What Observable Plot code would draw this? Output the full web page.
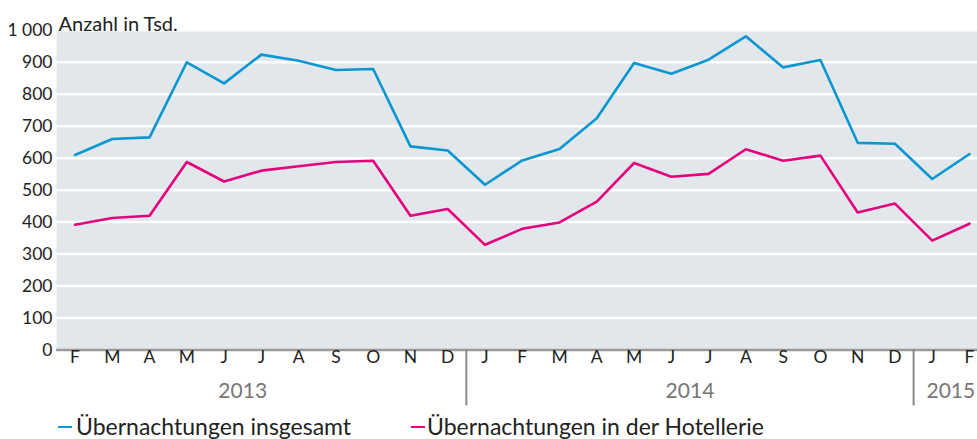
<!DOCTYPE html>
<html><head><meta charset="utf-8">
<script src="https://cdn.jsdelivr.net/npm/d3@7"></script>
<script src="https://cdn.jsdelivr.net/npm/@observablehq/plot@0.6"></script>
<style>
body{margin:0;background:#fff;font-family:Lato,"Noto Sans",sans-serif;}
#chart{position:relative;width:977px;height:439px;overflow:hidden;}
#chart svg{position:absolute;left:0;top:0;}
.legend{position:absolute;top:412px;left:0;height:28px;width:977px;font-size:23px;color:#222;white-space:nowrap;}
.legend .item{position:absolute;top:0;display:flex;align-items:center;}
.legend .sw{display:inline-block;width:14px;height:2.5px;margin-right:4px;margin-top:2px;}
</style></head><body>
<div id="chart"></div>
<script>
// Month labels, Feb 2013 – Feb 2015
const months = ["F","M","A","M","J","J","A","S","O","N","D","J","F","M","A","M","J","J","A","S","O","N","D","J","F"];
const startYear = 2013, startMonth = 1; // February 2013 (0-based month)
// Übernachtungen insgesamt (Tsd.)
const insgesamt = [610,660,665,900,834,924,905,876,879,637,624,517,593,629,725,898,864,908,981,884,907,648,645,535,613];
// Übernachtungen in der Hotellerie (Tsd.)
const hotellerie = [392,413,420,588,527,561,575,588,592,420,441,329,379,399,464,585,542,551,628,592,608,430,458,342,395];
const yTicks = [0,100,200,300,400,500,600,700,800,900,1000];
const seriesNames = ["Übernachtungen insgesamt","Übernachtungen in der Hotellerie"];
const colors = ["#0a97d0","#e5007e"];
const title = "Anzahl in Tsd.";

const rows = months.map((m,i)=>{
  const d = d3.utcMonth.offset(new Date(Date.UTC(startYear,startMonth,1)), i);
  return {i, m, year: d.getUTCFullYear(), mon: d.getUTCMonth(), total: insgesamt[i], hotel: hotellerie[i]};
});
const lastIdx = rows.length-1;
const yearRows = d3.groups(rows, r=>r.year).map(([year, rs])=>{
  const jan = rs[0].i - rs[0].mon;
  return {year: String(year), jan, center: (jan + Math.min(jan+11, lastIdx))/2};
});
const seps = yearRows.filter(y=>y.jan>0).map(y=>y.jan-0.5);

const W = 977, H = 439, mL = 56, mT = 31, mB = 89.5;
const fmt = d => d >= 1000 ? d3.format(",")(d).replace(",", "\u202F") : String(d);

const chart = Plot.plot({
  width: W, height: H, marginLeft: mL, marginRight: 0, marginTop: mT, marginBottom: mB,
  style: {fontFamily: "Lato, 'Noto Sans', sans-serif", background: "transparent", overflow: "visible"},
  x: {type: "linear", domain: [0, lastIdx], range: [74.5, 969], axis: null},
  y: {domain: [0, 1000], range: [H - mB, 29.8], axis: null},
  marks: [
    Plot.frame({fill: "#e2e7eb", stroke: null}),
    Plot.ruleY(yTicks.filter(d => d > 0 && d < 1000), {stroke: "#fff", strokeWidth: 2.5}),
    Plot.ruleY([0], {stroke: "#9a9a9a", strokeWidth: 2.5}),
    Plot.axisY({ticks: yTicks, tickFormat: fmt, tickSize: 0, tickPadding: 4, fontSize: 17.5, color: "#222"}),
    Plot.ruleX(seps, {y1: 0, insetBottom: -56, stroke: "#8a8a8a", strokeWidth: 2}),
    Plot.text(rows, {x: "i", text: "m", frameAnchor: "bottom", dy: 13, fontSize: 17.5, fill: "#222"}),
    Plot.text(yearRows, {x: "center", text: "year", frameAnchor: "bottom", dy: 48, fontSize: 21, fill: "#777"}),
    Plot.line(rows, {x: "i", y: "total", stroke: colors[0], strokeWidth: 2.6}),
    Plot.line(rows, {x: "i", y: "hotel", stroke: colors[1], strokeWidth: 2.6}),
    Plot.text([title], {frameAnchor: "top-left", dx: 2, dy: -15, textAnchor: "start", fontSize: 20, fill: "#222"})
  ]
});
const host = document.getElementById("chart");
host.appendChild(chart);
const leg = document.createElement("div");
leg.className = "legend";
const lefts = [58, 411];
seriesNames.forEach((name, k) => {
  const it = document.createElement("div");
  it.className = "item";
  it.style.left = lefts[k] + "px";
  const sw = document.createElement("span");
  sw.className = "sw"; sw.style.background = colors[k];
  if (k === 1) sw.style.marginRight = "2px";
  const tx = document.createElement("span");
  tx.textContent = name;
  it.appendChild(sw); it.appendChild(tx);
  leg.appendChild(it);
});
host.appendChild(leg);
</script></body></html>
